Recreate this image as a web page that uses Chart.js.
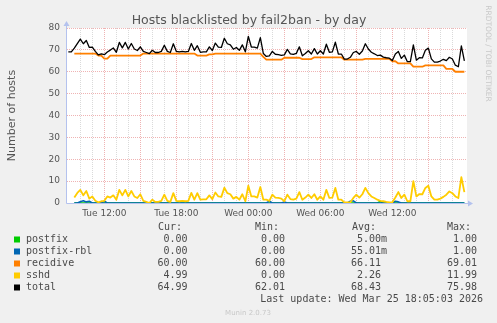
<!DOCTYPE html>
<html>
<head>
<meta charset="utf-8">
<title>Hosts blacklisted by fail2ban - by day</title>
<script src="https://cdn.jsdelivr.net/npm/chart.js@4.4.1/dist/chart.umd.min.js"></script>
<style>
  html, body { margin: 0; padding: 0; background: #f0f0f0; }
  #wrap { position: relative; width: 497px; height: 323px; }
</style>
</head>
<body>
<div id="wrap"><canvas id="graph" width="497" height="323"></canvas></div>
<script>
"use strict";

// samples every 15 minutes, hours counted from Tue 00:00 (Tue 09:00 .. Wed 18:00)
const firstHour = 9;
const stepHours = 0.25;

const tickHours = [12, 18, 24, 30, 36, 42];
const tickLabels = ['Tue 12:00', 'Tue 18:00', 'Wed 00:00', 'Wed 06:00', 'Wed 12:00', 'Wed 18:00'];

const postfix = [
    null, null, 0, 0, 0, 0, 0, 0, 0, 0,
    0, 0, 0, 0, 0, 0, 0, 0, 0, 0,
    0, 0, 0, 0, 0, 0, 0, 0, 0, 0,
    0, 0, 0, 0, 0, 0, 0, 0, 0, 0,
    0, 0, 0, 0, 0, 0, 0, 0, 0, 0,
    0, 0, 0, 0, 0, 0, 0, 0, 0, 0,
    0, 0, 0, 0, 0, 0, 0, 0, 0, 0,
    0, 0, 0, 0, 0, 0, 0, 0, 0, 0,
    0, 0, 0, 0, 0, 0, 0, 0, 0, 0,
    0, 0, 0, 0, 0, 0, 0, 0, 0, 0,
    0, 0, 0, 0, 0.7, 0, 0, 0, 0, 0,
    0, 0, 0, 0, 0, 0, 0, 0, 0, 0,
    0, 0, 0, 0, 0, 0, 0, 0, 0, 0,
    0, 0, 0
];

const postfixRbl = [
    null, null, 0, 0, 0.6, 1.0, 0.5, 0.8, 0, 0,
    0, 0, 0.8, 0, 0, 0, 0, 0, 0, 0,
    0, 0, 0, 0, 0, 0, 0, 0, 0, 0,
    0, 0, 0, 0, 0, 0, 0, 0, 0, 0,
    0, 0, 0, 0, 0, 0, 0, 0, 0, 0,
    0, 0, 0, 0, 0, 0, 0, 0, 0, 0,
    0, 0, 0, 0, 0, 0, 0, 0.8, 0, 0,
    0, 0, 0.5, 0, 0, 0, 0, 0, 0, 0,
    0, 0, 0, 0, 0, 0, 0, 0, 0, 0,
    0, 0, 0, 0, 0.8, 1.0, 0, 0, 0, 0,
    0, 0, 0, 0, 0, 0, 0, 0, 0, 0.8,
    0.5, 0, 0, 0, 0, 0, 0, 0, 0, 0,
    0, 0, 0, 0, 0, 0, 0, 0, 0, 0,
    0, 0, 0
];

const recidive = [
    null, null, 68.3, 68.3, 68.3, 68.3, 68.3, 68.3, 68.3, 68.3,
    67.4, 67.4, 66.0, 66.0, 67.4, 67.4, 67.4, 67.4, 67.4, 67.4,
    67.4, 67.4, 67.4, 67.4, 67.4, 68.3, 68.3, 68.3, 68.3, 68.3,
    68.3, 68.3, 68.3, 68.3, 68.3, 68.3, 68.3, 68.3, 68.3, 68.3,
    68.3, 68.3, 68.3, 67.4, 67.4, 67.4, 67.4, 67.9, 67.9, 68.3,
    68.3, 68.3, 68.3, 68.3, 68.3, 68.3, 68.3, 68.3, 68.3, 68.3,
    68.3, 68.3, 68.3, 68.3, 68.3, 66.8, 65.5, 65.5, 65.5, 65.5,
    65.5, 65.5, 66.4, 66.4, 66.4, 66.4, 66.4, 66.4, 65.8, 65.8,
    65.8, 65.8, 66.6, 66.6, 66.6, 66.6, 66.6, 66.6, 66.6, 66.6,
    66.6, 66.6, 65.5, 65.5, 65.5, 65.5, 65.5, 65.5, 65.5, 65.9,
    65.9, 65.9, 65.9, 65.9, 65.9, 65.9, 65.9, 65.9, 64.8, 64.8,
    63.8, 63.8, 63.8, 63.8, 63.8, 62.3, 62.3, 62.3, 62.3, 62.9,
    62.9, 62.9, 62.9, 62.9, 62.9, 62.9, 61.3, 61.3, 61.3, 60.0,
    60.0, 60.0, 60.0
];

const sshd = [
    null, null, 2.5, 4.6, 6.0, 3.5, 5.5, 2.0, 3.0, 1.0,
    0.3, 0.8, 1.0, 3.0, 2.5, 3.5, 1.5, 6.0, 3.5, 6.0,
    3.0, 5.5, 3.0, 2.3, 4.0, 1.0, 0.5, 0, 1.5, 0.5,
    0.5, 1.0, 3.8, 1.0, 0.5, 4.5, 1.0, 0.8, 1.0, 0.8,
    1.0, 4.6, 1.5, 4.5, 1.5, 1.7, 1.7, 3.5, 1.8, 4.8,
    3.0, 2.8, 7.0, 4.5, 4.0, 2.0, 2.8, 1.5, 4.0, 0.8,
    7.9, 3.0, 3.0, 2.5, 7.3, 1.5, 1.5, 1.0, 3.8, 2.5,
    2.3, 2.0, 0.8, 3.8, 1.8, 1.5, 2.0, 5.0, 1.5, 2.5,
    3.8, 2.3, 4.0, 1.5, 3.0, 1.5, 6.0, 2.3, 2.5, 6.9,
    1.5, 1.5, 0.3, 0.3, 0.3, 2.3, 3.8, 2.5, 4.0, 6.9,
    4.5, 3.0, 2.3, 1.5, 1.0, 0.8, 0.5, 0.3, 0.3, 2.5,
    5.0, 2.3, 3.8, 0.8, 0.8, 10.0, 3.0, 4.1, 4.0, 6.9,
    7.9, 3.0, 1.5, 1.5, 2.0, 2.8, 3.8, 5.3, 4.5, 3.0,
    2.3, 11.8, 5.0
];

const total = [
    69.1, 69.1, 70.8, 72.9, 74.9, 72.8, 74.3, 71.1, 71.3, 69.3,
    67.7, 68.2, 67.8, 69.0, 69.9, 70.9, 68.9, 73.4, 70.9, 73.4,
    70.4, 72.9, 70.4, 69.7, 71.4, 69.3, 68.8, 68.3, 69.8, 68.8,
    68.8, 69.3, 72.1, 69.3, 68.8, 72.8, 69.3, 69.1, 69.3, 69.1,
    69.3, 72.9, 69.8, 71.9, 68.9, 69.1, 69.1, 71.4, 69.7, 73.1,
    71.3, 71.1, 75.3, 72.8, 72.3, 70.3, 71.1, 69.8, 72.3, 69.1,
    76.2, 71.3, 71.3, 70.8, 75.6, 68.3, 67.0, 67.3, 69.3, 68.0,
    67.8, 67.5, 67.7, 70.2, 68.2, 67.9, 68.4, 71.4, 67.3, 68.3,
    69.6, 68.1, 70.6, 68.1, 69.6, 68.1, 72.6, 68.9, 69.1, 73.5,
    68.1, 68.1, 65.8, 65.8, 66.6, 68.8, 69.3, 68.0, 69.5, 72.8,
    70.4, 68.9, 68.2, 67.4, 67.6, 66.7, 66.4, 66.2, 65.1, 68.1,
    69.3, 66.1, 67.6, 64.6, 64.6, 72.3, 65.3, 66.4, 66.3, 69.8,
    70.8, 65.9, 64.4, 64.4, 64.9, 65.7, 65.1, 66.6, 65.8, 63.0,
    62.3, 71.8, 65.0
];

// legend table
const seriesNames = ['postfix', 'postfix-rbl', 'recidive', 'sshd', 'total'];
const curValues = ['0.00', '0.00', '60.00', '4.99', '64.99'];
const minValues = ['0.00', '0.00', '60.00', '0.00', '62.01'];
const avgValues = ['5.00m', '55.01m', '66.11', '2.26', '68.43'];
const maxValues = ['1.00', '1.00', '69.01', '11.99', '75.98'];
const lastUpdate = 'Last update: Wed Mar 25 18:05:03 2026';

const seriesColors = ['#00cc00', '#0066b3', '#ff8000', '#ffcc00', '#000000'];
const majorGrid = '#efb3b3';
const minorGrid = '#dadada';
const axisColor = '#b4c2ee';
const textColor = '#555555';

function toPoints(values) {
    return values.map((v, i) => ({ x: firstHour + i * stepHours, y: v }));
}

function lineSet(k, values, width, order) {
    return {
        label: seriesNames[k],
        data: toPoints(values),
        borderColor: seriesColors[k],
        backgroundColor: seriesColors[k],
        borderWidth: width,
        borderJoinStyle: 'round',
        pointRadius: 0,
        tension: 0,
        spanGaps: false,
        order: order
    };
}

// background, axes, arrows and the rrdtool/munin text blocks
const muninFrame = {
    id: 'muninFrame',
    beforeDraw(chart) {
        const { ctx, chartArea: a } = chart;
        ctx.save();
        ctx.fillStyle = '#f0f0f0';
        ctx.fillRect(0, 0, chart.width, chart.height);
        ctx.fillStyle = '#ffffff';
        ctx.fillRect(a.left, a.top, a.right - a.left, a.bottom - a.top);
        ctx.restore();
    },
    afterDatasetsDraw(chart) {
        const { ctx, chartArea: a } = chart;
        ctx.save();
        ctx.strokeStyle = axisColor;
        ctx.fillStyle = axisColor;
        ctx.lineWidth = 1;
        ctx.beginPath();
        ctx.moveTo(a.left - 0.5, a.bottom + 0.5);
        ctx.lineTo(a.right + 2, a.bottom + 0.5);
        ctx.moveTo(a.left - 0.5, a.bottom + 0.5);
        ctx.lineTo(a.left - 0.5, a.top - 3);
        ctx.stroke();
        // arrow heads
        ctx.beginPath();
        ctx.moveTo(a.right + 1, a.bottom - 2.5);
        ctx.lineTo(a.right + 6, a.bottom + 0.5);
        ctx.lineTo(a.right + 1, a.bottom + 3.5);
        ctx.closePath();
        ctx.fill();
        ctx.beginPath();
        ctx.moveTo(a.left - 3.5, a.top - 2);
        ctx.lineTo(a.left - 0.5, a.top - 7);
        ctx.lineTo(a.left + 2.5, a.top - 2);
        ctx.closePath();
        ctx.fill();
        ctx.restore();
    },
    afterDraw(chart) {
        const ctx = chart.ctx;
        ctx.save();

        // title
        ctx.fillStyle = textColor;
        ctx.font = '12.5px "DejaVu Sans"';
        ctx.textAlign = 'center';
        ctx.textBaseline = 'alphabetic';
        ctx.fillText('Hosts blacklisted by fail2ban - by day', 249, 24);

        // vertical axis label
        ctx.save();
        ctx.font = '11px "DejaVu Sans"';
        ctx.translate(15, 115.5);
        ctx.rotate(-Math.PI / 2);
        ctx.fillText('Number of hosts', 0, 0);
        ctx.restore();

        // rrdtool watermark
        ctx.save();
        ctx.fillStyle = '#c8c8c8';
        ctx.font = '7.5px "DejaVu Sans"';
        ctx.translate(485.5, 53.5);
        ctx.rotate(Math.PI / 2);
        ctx.fillText('RRDTOOL / TOBI OETIKER', 0, 0);
        ctx.restore();

        // legend
        ctx.font = '10px "DejaVu Sans Mono"';
        ctx.fillStyle = '#4a4a4a';
        ctx.textAlign = 'left';
        ctx.fillText('Cur:', 158, 230);
        ctx.fillText('Min:', 255, 230);
        ctx.fillText('Avg:', 352, 230);
        ctx.fillText('Max:', 447, 230);

        const pad = (s) => (s.endsWith('m') ? s : s + ' ');
        seriesNames.forEach((name, k) => {
            const base = 242 + k * 12;
            ctx.fillStyle = seriesColors[k];
            ctx.fillRect(14, base - 5.5, 6, 6);
            ctx.fillStyle = '#4a4a4a';
            ctx.textAlign = 'left';
            ctx.fillText(name, 26, base);
            ctx.textAlign = 'right';
            ctx.fillText(pad(curValues[k]), 193.5, base);
            ctx.fillText(pad(minValues[k]), 291, base);
            ctx.fillText(pad(avgValues[k]), 387, base);
            ctx.fillText(pad(maxValues[k]), 483, base);
        });

        ctx.textAlign = 'right';
        ctx.fillText(lastUpdate, 483, 302);

        ctx.fillStyle = '#c8c8c8';
        ctx.font = '7px "DejaVu Sans"';
        ctx.textAlign = 'center';
        ctx.fillText('Munin 2.0.73', 248, 314.5);

        ctx.restore();
    }
};

Chart.defaults.font.family = '"DejaVu Sans"';

new Chart(document.getElementById('graph'), {
    type: 'line',
    data: {
        datasets: [
            lineSet(0, postfix, 1.6, 4),
            lineSet(1, postfixRbl, 1.6, 3),
            lineSet(2, recidive, 1.8, 2),
            lineSet(3, sshd, 1.8, 1),
            lineSet(4, total, 1.3, 0)
        ]
    },
    options: {
        responsive: false,
        animation: false,
        events: [],
        layout: { padding: { left: 0, top: 28, right: 30, bottom: 0 } },
        plugins: {
            legend: { display: false },
            tooltip: { enabled: false }
        },
        scales: {
            x: {
                type: 'linear',
                min: 8.89,
                max: 42.22,
                afterBuildTicks: (scale) => {
                    scale.ticks = scale.ticks.filter((t) =>
                        t.value >= scale.min && t.value <= scale.max &&
                        Math.abs(t.value - Math.round(t.value)) < 1e-6);
                },
                afterFit: (scale) => { scale.height = 120; },
                grid: {
                    drawTicks: false,
                    color: (c) => (c.tick && Math.round(c.tick.value) % 3 === 0 ? majorGrid : minorGrid)
                },
                border: { display: false, dash: [1, 1] },
                ticks: {
                    stepSize: 1,
                    maxTicksLimit: 100,
                    autoSkip: false,
                    maxRotation: 0,
                    padding: 5,
                    color: textColor,
                    font: { family: '"DejaVu Sans"', size: 9 },
                    callback: (v) => {
                        const k = tickHours.indexOf(Math.round(v));
                        return k >= 0 ? tickLabels[k] : '';
                    }
                }
            },
            y: {
                min: 0,
                max: 80,
                afterFit: (scale) => { scale.width = 67; },
                grid: {
                    drawTicks: false,
                    color: (c) => (c.tick && c.tick.value % 10 === 0 ? majorGrid : minorGrid)
                },
                border: { display: false, dash: [1, 1] },
                ticks: {
                    stepSize: 5,
                    padding: 7,
                    color: textColor,
                    font: { family: '"DejaVu Sans"', size: 9 },
                    callback: (v) => (v % 10 === 0 ? String(v) : '')
                }
            }
        }
    },
    plugins: [muninFrame]
});
</script>
</body>
</html>
